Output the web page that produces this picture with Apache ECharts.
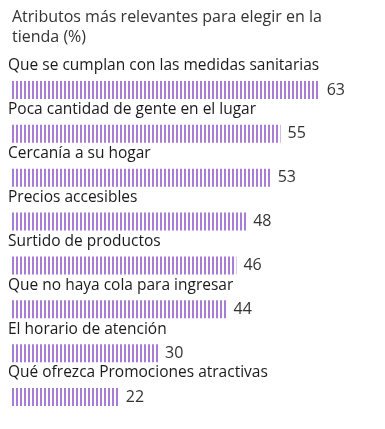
<!DOCTYPE html>
<html><head><meta charset="utf-8">
<script src="https://cdn.jsdelivr.net/npm/echarts@6/dist/echarts.min.js"></script>
<style>html,body{margin:0;padding:0;background:#fff}#c{width:385px;height:429px}</style>
</head><body><div id="c"></div>
<script>
const titleText = 'Atributos más relevantes para elegir en la\ntienda (%)';
const categories = [
  'Que se cumplan con las medidas sanitarias',
  'Poca cantidad de gente en el lugar',
  'Cercanía a su hogar',
  'Precios accesibles',
  'Surtido de productos',
  'Que no haya cola para ingresar',
  'El horario de atención',
  'Qué ofrezca Promociones atractivas'
];
const values = [63, 55, 53, 48, 46, 44, 30, 22];

const stripe = document.createElement('canvas');
stripe.width = 4; stripe.height = 20;
const ctx = stripe.getContext('2d');
ctx.fillStyle = '#ffffff'; ctx.fillRect(0, 0, 4, 20);
ctx.fillStyle = '#a87dd6'; ctx.fillRect(0, 0, 2, 20);

const font = 'Open Sans';
const chart = echarts.init(document.getElementById('c'), null, {renderer: 'canvas'});
chart.setOption({
  animation: false,
  title: {
    text: titleText, left: 12, top: 7, padding: 0,
    textStyle: {fontFamily: font, fontSize: 16, fontWeight: 'normal', color: '#333', lineHeight: 20}
  },
  grid: {left: 11, right: 31, top: 68, bottom: 10, containLabel: false},
  xAxis: {type: 'value', min: 0, max: 70, show: false},
  yAxis: {
    type: 'category', data: categories, inverse: true,
    axisLine: {show: false}, axisTick: {show: false},
    axisLabel: {
      inside: true, margin: -3, align: 'left', verticalAlign: 'bottom',
      padding: [0, 0, 16, 0],
      fontFamily: font, fontSize: 15.5, color: '#1a1a1a'
    }
  },
  series: [{
    type: 'bar', data: values, barWidth: 18,
    itemStyle: {color: {image: stripe, repeat: 'repeat'}},
    label: {show: true, position: 'right', distance: 7, fontFamily: font, fontSize: 16, color: '#333'}
  }]
});
</script></body></html>
